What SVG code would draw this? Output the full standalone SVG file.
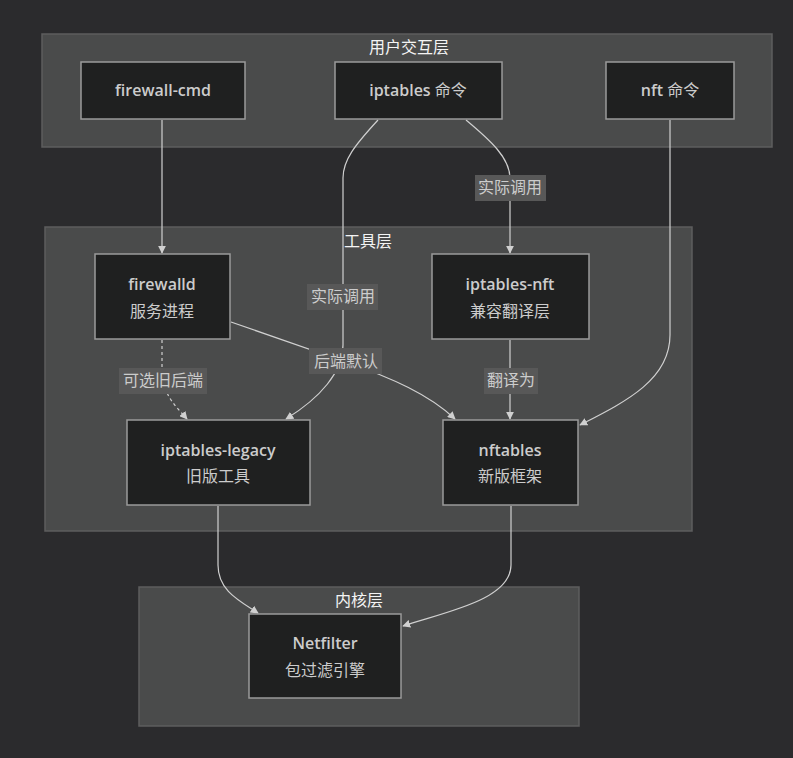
<svg xmlns="http://www.w3.org/2000/svg" width="793" height="758" viewBox="0 0 793 758">
<defs>
<style>
.cl{fill:#4a4b4b;stroke:#5e5e5e;stroke-width:1.5}
.ct{fill:#f4f4f4;font-family:"Open Sans","Noto Sans CJK SC",sans-serif;font-size:16px;text-anchor:middle}
.nd{fill:#1f2020;stroke:#9a9a9a;stroke-width:1.5}
.nt{fill:#cccccc;font-family:"Open Sans","Noto Sans CJK SC",sans-serif;font-size:16px;font-weight:600;text-anchor:middle}
.cj{font-weight:400}
.e{fill:none;stroke:#d0d0d0;stroke-width:1.2}
.d{stroke-dasharray:3 3}
.lb{fill:#585858}
.lt{fill:#cccccc;font-family:"Open Sans","Noto Sans CJK SC",sans-serif;font-size:16px;text-anchor:middle}
</style>
<marker id="ah" viewBox="0 0 10 10" refX="9" refY="5" markerWidth="8" markerHeight="8" markerUnits="userSpaceOnUse" orient="auto">
<path d="M0,0 L10,5 L0,10 z" fill="#d0d0d0"/>
</marker>
</defs>
<rect width="793" height="758" fill="#2b2b2d"/>
<g id="cluster-user">
<rect class="cl" x="42" y="34" width="730" height="113"/>
<text class="ct" x="409" y="53">用户交互层</text>
</g>
<g id="cluster-tool">
<rect class="cl" x="45" y="227" width="647" height="304"/>
<text class="ct" x="368" y="247">工具层</text>
</g>
<g id="cluster-kernel">
<rect class="cl" x="139" y="587" width="440" height="139"/>
<text class="ct" x="359" y="606">内核层</text>
</g>
<g id="edges">
<path class="e" marker-end="url(#ah)" d="M162,120 L162,253"/>
<path class="e" marker-end="url(#ah)" d="M378,120 C355,145 343,160 343,178 L343,345 C343,372 320,398 286,419"/>
<path class="e" marker-end="url(#ah)" d="M466,120 C490,140 510,158 510,178 L510,253"/>
<path class="e" marker-end="url(#ah)" d="M670,120 L670,335 C670,380 625,402 580,425"/>
<path class="e" marker-end="url(#ah)" d="M231,322 L346,362 C392,378 430,395 455,419"/>
<path class="e d" marker-end="url(#ah)" d="M162,340 L162,368 C162,395 175,405 187,419"/>
<path class="e" marker-end="url(#ah)" d="M510,340 L510,419"/>
<path class="e" marker-end="url(#ah)" d="M218,506 L218,565 C218,590 238,600 258,613"/>
<path class="e" marker-end="url(#ah)" d="M511,506 L511,565 C511,600 445,612 403,626"/>
<rect class="lb" x="475" y="175" width="71" height="26"/>
<text class="lt" x="510" y="193">实际调用</text>
<rect class="lb" x="307" y="284" width="71" height="26"/>
<text class="lt" x="343" y="302">实际调用</text>
<rect class="lb" x="309" y="348" width="73" height="26"/>
<text class="lt" x="346" y="367">后端默认</text>
<rect class="lb" x="119" y="368" width="88" height="26"/>
<text class="lt" x="163" y="386">可选旧后端</text>
<rect class="lb" x="484" y="368" width="54" height="26"/>
<text class="lt" x="511" y="386">翻译为</text>
</g>
<g id="firewall-cmd">
<rect class="nd" x="81" y="62" width="164" height="57"/>
<text class="nt" x="163" y="96">firewall-cmd</text>
</g>
<g id="iptables-cmd">
<rect class="nd" x="335" y="62" width="167" height="57"/>
<text class="nt" x="418" y="96">iptables <tspan class="cj">命令</tspan></text>
</g>
<g id="nft-cmd">
<rect class="nd" x="606" y="62" width="128" height="57"/>
<text class="nt" x="670" y="96">nft <tspan class="cj">命令</tspan></text>
</g>
<g id="firewalld">
<rect class="nd" x="95" y="254" width="135" height="85"/>
<text class="nt" x="162" y="290">firewalld</text>
<text class="nt cj" x="162" y="317">服务进程</text>
</g>
<g id="iptables-nft">
<rect class="nd" x="432" y="254" width="157" height="85"/>
<text class="nt" x="510" y="290">iptables-nft</text>
<text class="nt cj" x="510" y="317">兼容翻译层</text>
</g>
<g id="iptables-legacy">
<rect class="nd" x="127" y="420" width="183" height="85"/>
<text class="nt" x="218" y="456">iptables-legacy</text>
<text class="nt cj" x="218" y="482">旧版工具</text>
</g>
<g id="nftables">
<rect class="nd" x="443" y="420" width="135" height="85"/>
<text class="nt" x="510" y="456">nftables</text>
<text class="nt cj" x="510" y="482">新版框架</text>
</g>
<g id="netfilter">
<rect class="nd" x="249" y="614" width="152" height="84"/>
<text class="nt" x="325" y="649">Netfilter</text>
<text class="nt cj" x="325" y="676">包过滤引擎</text>
</g>
</svg>
